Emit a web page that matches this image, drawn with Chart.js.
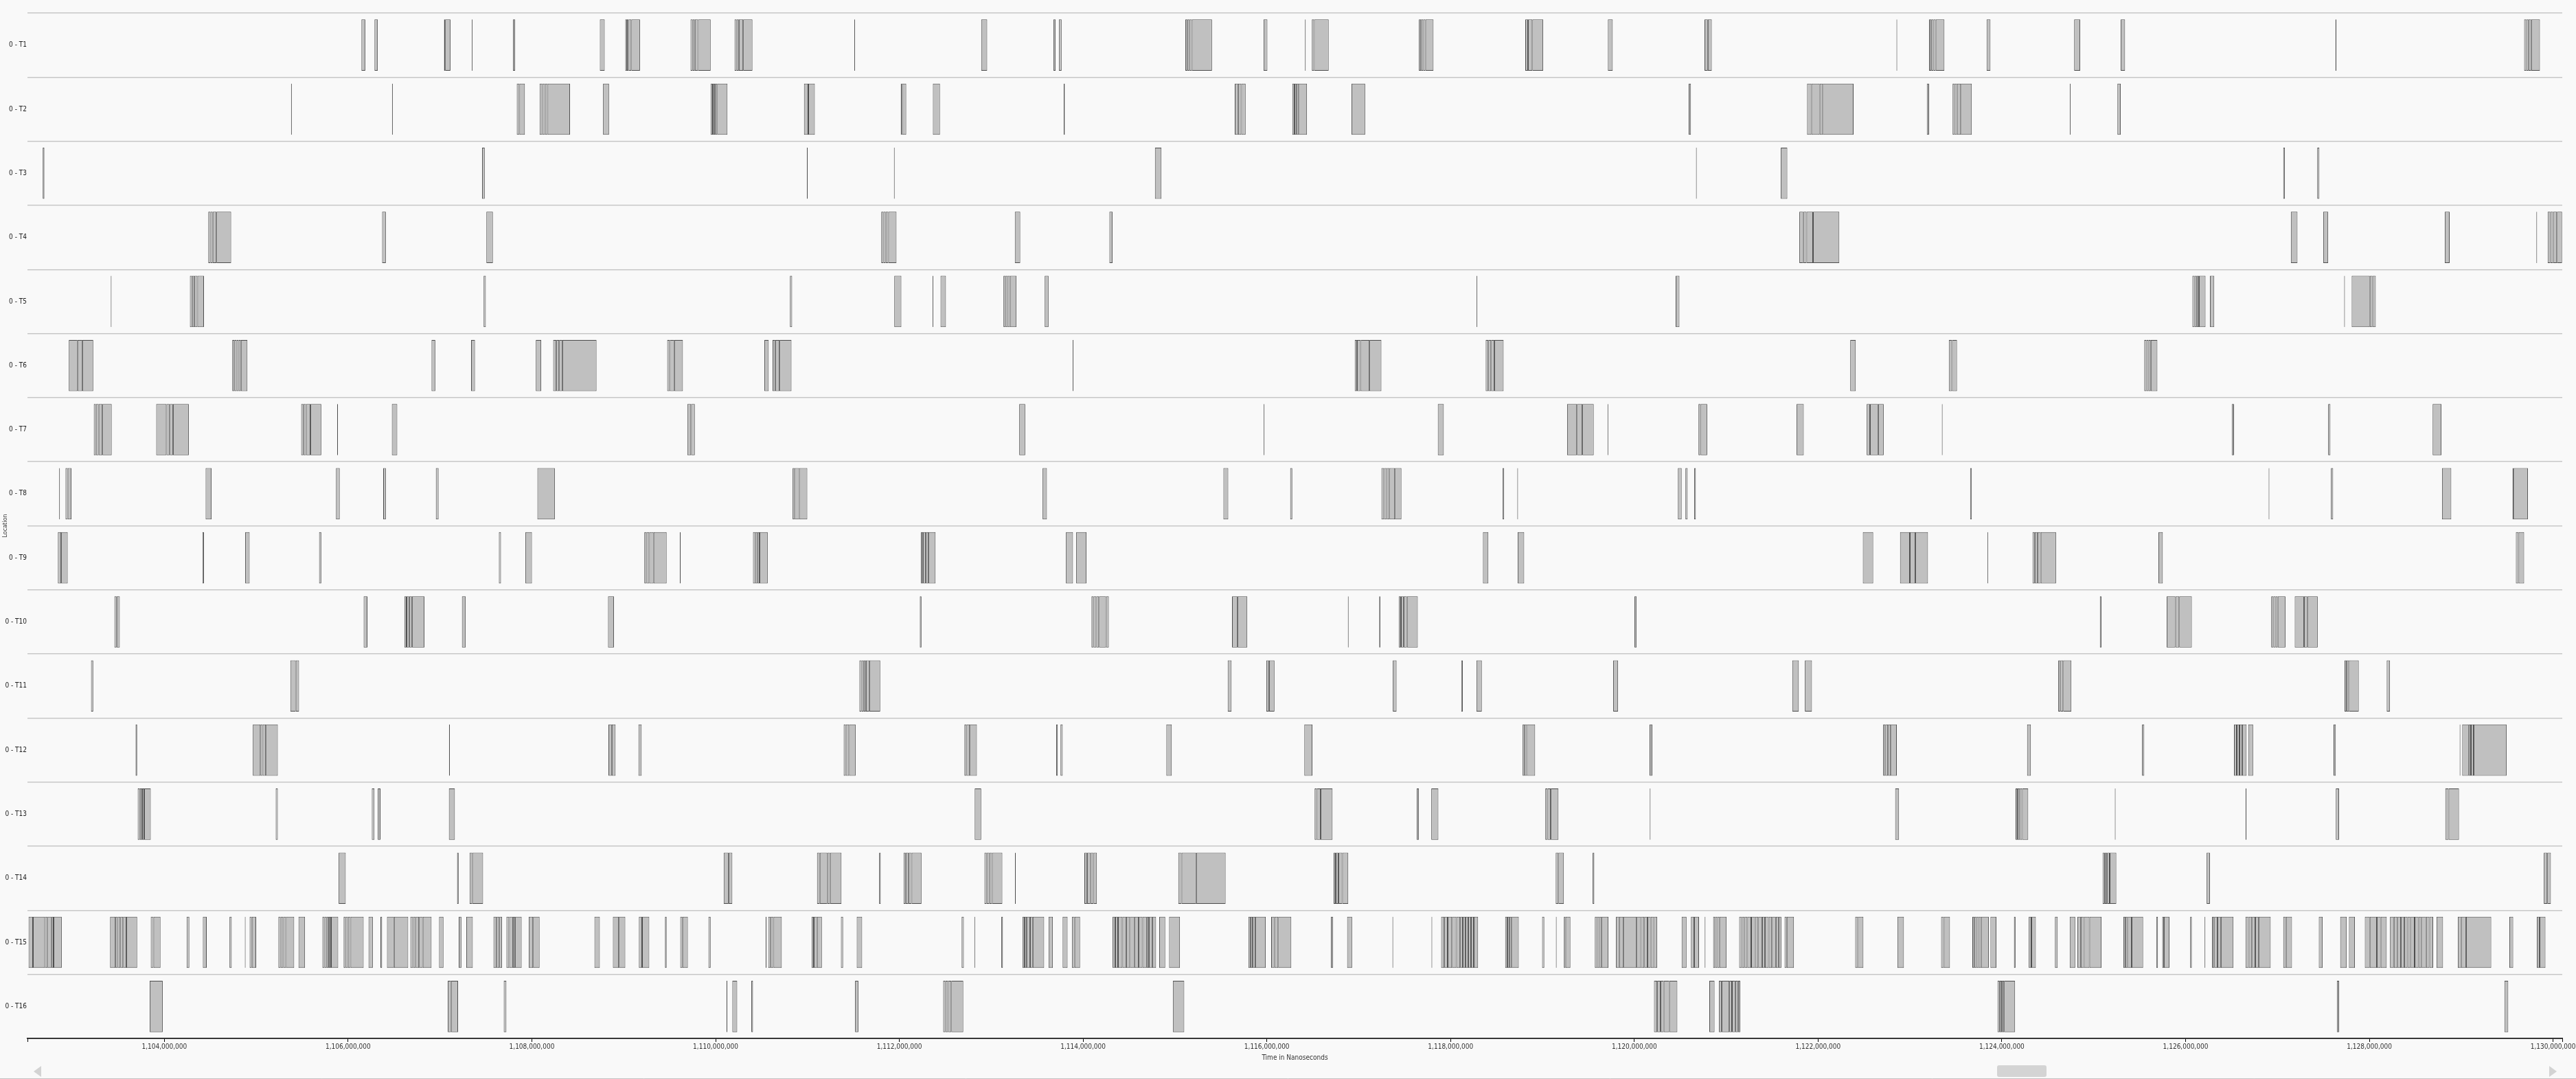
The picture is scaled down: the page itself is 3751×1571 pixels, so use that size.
<!DOCTYPE html>
<html>
<head>
<meta charset="utf-8">
<script src="https://cdn.jsdelivr.net/npm/chart.js@4.4.1/dist/chart.umd.min.js"></script>
<style>
html,body{margin:0;padding:0;background:#f9f9f9;}
canvas{display:block;}
</style>
</head>
<body>
<canvas id="c" width="3751" height="1571"></canvas>
<script>
const CATEGORIES = ['0 - T1','0 - T2','0 - T3','0 - T4','0 - T5','0 - T6','0 - T7','0 - T8',
  '0 - T9','0 - T10','0 - T11','0 - T12','0 - T13','0 - T14','0 - T15','0 - T16'];
const X_MIN = 1102510000;
const X_MAX = 1130100000;
const X_TICKS = [1104000000,1106000000,1108000000,1110000000,1112000000,1114000000,1116000000,
  1118000000,1120000000,1122000000,1124000000,1126000000,1128000000,1130000000];

// activity intervals per location, [start, end] in milliseconds
const T1 = [
[1106.145,1106.187],[1106.287,1106.323],[1107.044,1107.056],[1107.056,1107.114],[1107.347,1107.355],[1107.794,1107.818],[1108.740,1108.793],
[1109.017,1109.035],[1109.035,1109.053],[1109.053,1109.083],[1109.083,1109.177],
[1109.727,1109.751],[1109.751,1109.774],[1109.774,1109.809],[1109.809,1109.946],
[1110.206,1110.229],[1110.229,1110.253],[1110.253,1110.300],[1110.300,1110.401],
[1111.509,1111.517],
[1112.891,1112.956],[1113.677,1113.701],[1113.736,1113.766],
[1115.113,1115.137],[1115.137,1115.160],[1115.160,1115.184],[1115.184,1115.403],
[1115.964,1116.006],[1116.415,1116.423],[1116.490,1116.514],[1116.514,1116.673],
[1117.655,1117.678],[1117.678,1117.702],[1117.702,1117.726],[1117.726,1117.814],
[1118.813,1118.843],[1118.843,1118.890],[1118.890,1119.008],
[1119.712,1119.765],[1120.764,1120.800],[1120.800,1120.843],
[1122.853,1122.861],
[1123.208,1123.232],[1123.232,1123.256],[1123.256,1123.280],[1123.280,1123.375],
[1123.834,1123.876],[1124.787,1124.853],[1125.294,1125.341],[1127.631,1127.641],
[1129.685,1129.708],[1129.708,1129.732],[1129.732,1129.762],[1129.762,1129.857]
];
const T2 = [
[1105.379,1105.387],[1106.478,1106.486],
[1107.836,1107.865],[1107.865,1107.924],
[1108.084,1108.113],[1108.113,1108.143],[1108.143,1108.172],[1108.172,1108.415],
[1108.775,1108.840],
[1109.946,1109.970],[1109.970,1109.993],[1109.993,1110.017],[1110.017,1110.129],
[1110.962,1111.009],[1111.009,1111.080],
[1112.016,1112.030],[1112.030,1112.075],[1112.365,1112.442],[1113.789,1113.801],
[1115.651,1115.687],[1115.687,1115.722],[1115.722,1115.769],
[1116.277,1116.301],[1116.301,1116.325],[1116.325,1116.348],[1116.348,1116.437],
[1116.922,1117.070],[1120.592,1120.616],
[1121.880,1121.927],[1121.927,1122.017],[1122.017,1122.052],[1122.052,1122.386],
[1123.184,1123.208],
[1123.464,1123.488],[1123.488,1123.512],[1123.512,1123.554],[1123.554,1123.673],
[1124.741,1124.749],[1125.258,1125.294]
];
const T3 = [
[1102.676,1102.694],[1107.458,1107.487],[1110.994,1111.002],[1111.941,1111.949],[1114.782,1114.853],
[1120.671,1120.679],[1121.594,1121.665],[1127.063,1127.081],[1127.433,1127.456]
];
const T4 = [
[1104.478,1104.502],[1104.502,1104.526],[1104.526,1104.567],[1104.567,1104.727],
[1106.370,1106.411],[1107.505,1107.576],
[1111.803,1111.827],[1111.827,1111.851],[1111.851,1111.880],[1111.880,1111.969],
[1113.257,1113.316],[1114.286,1114.321],
[1121.796,1121.838],[1121.838,1121.874],[1121.874,1121.945],[1121.945,1122.231],
[1127.146,1127.218],[1127.498,1127.552],[1128.821,1128.874],[1129.818,1129.826],
[1129.941,1129.970],[1129.970,1130.000],[1130.000,1130.042],[1130.042,1130.098]
];
const T5 = [
[1103.417,1103.425],
[1104.278,1104.302],[1104.302,1104.325],[1104.325,1104.360],[1104.360,1104.431],
[1107.475,1107.499],[1110.809,1110.833],
[1111.945,1112.022],[1112.361,1112.369],[1112.448,1112.507],
[1113.133,1113.157],[1113.157,1113.180],[1113.180,1113.204],[1113.204,1113.275],
[1113.582,1113.624],[1118.283,1118.291],[1120.450,1120.491],
[1126.074,1126.098],[1126.098,1126.122],[1126.122,1126.146],[1126.146,1126.217],
[1126.265,1126.312],[1127.726,1127.734],
[1127.808,1128.005],[1128.005,1128.034],[1128.034,1128.070]
];
const T6 = [
[1102.960,1103.054],[1103.054,1103.107],[1103.107,1103.226],
[1104.739,1104.762],[1104.762,1104.786],[1104.786,1104.809],[1104.809,1104.833],[1104.833,1104.904],
[1106.908,1106.949],[1107.339,1107.381],[1108.043,1108.102],
[1108.232,1108.267],[1108.267,1108.297],[1108.297,1108.332],[1108.332,1108.704],
[1109.473,1109.502],[1109.502,1109.550],[1109.550,1109.644],
[1110.531,1110.578],
[1110.620,1110.649],[1110.649,1110.696],[1110.696,1110.826],
[1113.886,1113.894],
[1116.957,1116.981],[1116.981,1117.022],[1117.022,1117.117],[1117.117,1117.247],
[1118.382,1118.411],[1118.411,1118.441],[1118.441,1118.476],[1118.476,1118.577],
[1122.350,1122.410],[1123.423,1123.458],[1123.458,1123.512],
[1125.550,1125.574],[1125.574,1125.597],[1125.597,1125.621],[1125.621,1125.693]
];
const T7 = [
[1103.232,1103.255],[1103.255,1103.285],[1103.285,1103.326],[1103.326,1103.427],
[1103.911,1104.023],[1104.023,1104.059],[1104.059,1104.094],[1104.094,1104.266],
[1105.489,1105.513],[1105.513,1105.542],[1105.542,1105.590],[1105.590,1105.708],
[1105.881,1105.889],[1106.476,1106.535],[1109.692,1109.733],[1109.733,1109.774],
[1113.305,1113.370],[1115.966,1115.974],[1117.861,1117.926],
[1119.268,1119.375],[1119.375,1119.434],[1119.434,1119.558],
[1119.708,1119.716],[1120.698,1120.722],[1120.722,1120.793],
[1121.766,1121.844],[1122.529,1122.565],[1122.565,1122.654],[1122.654,1122.714],
[1123.347,1123.355],[1126.503,1126.527],[1127.552,1127.576],[1128.689,1128.785]
];
const T8 = [
[1102.855,1102.863],[1102.924,1102.948],[1102.948,1102.989],
[1104.449,1104.514],[1105.868,1105.909],[1106.382,1106.411],[1106.955,1106.985],
[1108.060,1108.250],
[1110.838,1110.862],[1110.862,1110.909],[1110.909,1110.998],
[1113.559,1113.606],[1115.527,1115.580],[1116.254,1116.277],
[1117.247,1117.276],[1117.276,1117.306],[1117.306,1117.335],[1117.335,1117.394],[1117.394,1117.465],
[1118.565,1118.583],[1118.726,1118.734],
[1120.474,1120.515],[1120.556,1120.580],[1120.651,1120.669],
[1123.655,1123.673],[1126.904,1126.912],[1127.582,1127.606],[1128.791,1128.892],
[1129.559,1129.571],[1129.571,1129.726]
];
const T9 = [
[1102.841,1102.877],[1102.877,1102.948],
[1104.414,1104.431],[1104.880,1104.928],[1105.684,1105.708],[1107.641,1107.664],[1107.930,1108.001],
[1109.224,1109.248],[1109.248,1109.278],[1109.278,1109.325],[1109.325,1109.467],
[1109.611,1109.619],
[1110.407,1110.431],[1110.431,1110.454],[1110.454,1110.478],[1110.478,1110.567],
[1112.235,1112.258],[1112.258,1112.288],[1112.288,1112.318],[1112.318,1112.394],
[1113.813,1113.890],[1113.925,1114.037],[1118.352,1118.411],[1118.730,1118.801],
[1122.487,1122.600],
[1122.892,1122.999],[1122.999,1123.059],[1123.059,1123.196],
[1123.842,1123.850],
[1124.334,1124.358],[1124.358,1124.388],[1124.388,1124.424],[1124.424,1124.590],
[1125.705,1125.752],[1129.595,1129.625],[1129.625,1129.685]
];
const T10 = [
[1103.456,1103.480],[1103.480,1103.515],[1106.169,1106.210],
[1106.612,1106.636],[1106.636,1106.665],[1106.665,1106.695],[1106.695,1106.831],
[1107.239,1107.280],[1108.829,1108.894],
[1112.223,1112.241],
[1114.091,1114.114],[1114.114,1114.144],[1114.144,1114.173],[1114.173,1114.250],[1114.250,1114.280],
[1115.621,1115.680],[1115.680,1115.787],[1116.882,1116.890],[1117.223,1117.235],
[1117.436,1117.460],[1117.460,1117.489],[1117.489,1117.525],[1117.525,1117.643],
[1120.001,1120.025],[1125.067,1125.085],
[1125.794,1125.889],[1125.889,1125.931],[1125.931,1126.068],
[1126.932,1126.956],[1126.956,1126.980],[1126.980,1127.003],[1127.003,1127.087],
[1127.188,1127.289],[1127.289,1127.325],[1127.325,1127.438]
];
const T11 = [
[1103.202,1103.226],[1105.371,1105.430],[1105.430,1105.466],
[1111.565,1111.589],[1111.589,1111.613],[1111.613,1111.636],[1111.636,1111.673],[1111.673,1111.792],
[1115.574,1115.616],[1115.994,1116.024],[1116.024,1116.083],[1117.371,1117.412],
[1118.116,1118.133],[1118.281,1118.340],[1119.770,1119.823],
[1121.719,1121.790],[1121.856,1121.933],
[1124.614,1124.638],[1124.638,1124.668],[1124.668,1124.757],
[1127.730,1127.754],[1127.754,1127.778],[1127.778,1127.885],[1128.189,1128.225]
];
const T12 = [
[1103.687,1103.704],
[1104.963,1105.046],[1105.046,1105.070],[1105.070,1105.105],[1105.105,1105.235],
[1107.099,1107.107],[1108.834,1108.870],[1108.870,1108.911],[1109.160,1109.195],
[1111.394,1111.417],[1111.417,1111.453],[1111.453,1111.524],
[1112.708,1112.731],[1112.731,1112.767],[1112.767,1112.844],
[1113.707,1113.724],[1113.754,1113.778],[1114.906,1114.965],[1116.408,1116.496],
[1118.784,1118.807],[1118.807,1118.831],[1118.831,1118.920],
[1120.166,1120.196],
[1122.708,1122.732],[1122.732,1122.761],[1122.761,1122.791],[1122.791,1122.857],
[1124.275,1124.316],[1125.526,1125.550],
[1126.527,1126.557],[1126.557,1126.587],[1126.587,1126.616],[1126.616,1126.664],[1126.682,1126.735],
[1127.611,1127.635],[1128.983,1128.991],
[1129.011,1129.082],[1129.082,1129.106],[1129.106,1129.136],[1129.136,1129.494]
];
const T13 = [
[1103.710,1103.734],[1103.734,1103.758],[1103.758,1103.781],[1103.781,1103.852],
[1105.212,1105.235],[1106.258,1106.287],[1106.323,1106.352],[1107.097,1107.162],
[1112.820,1112.891],
[1116.520,1116.544],[1116.544,1116.585],[1116.585,1116.715],
[1117.631,1117.655],[1117.790,1117.867],
[1119.031,1119.055],[1119.055,1119.090],[1119.090,1119.174],
[1120.168,1120.176],[1122.839,1122.881],
[1124.150,1124.173],[1124.173,1124.197],[1124.197,1124.221],[1124.221,1124.287],
[1125.230,1125.238],[1126.654,1126.662],[1127.635,1127.671],
[1128.827,1128.863],[1128.863,1128.976]
];
const T14 = [
[1105.897,1105.974],[1107.186,1107.203],[1107.322,1107.351],[1107.351,1107.469],
[1110.088,1110.141],[1110.141,1110.182],
[1111.104,1111.134],[1111.134,1111.216],[1111.216,1111.246],[1111.246,1111.370],
[1111.780,1111.797],
[1112.046,1112.069],[1112.069,1112.099],[1112.099,1112.134],[1112.134,1112.241],
[1112.926,1112.950],[1112.950,1112.980],[1112.980,1113.009],[1113.009,1113.121],
[1113.259,1113.267],
[1114.014,1114.043],[1114.043,1114.079],[1114.079,1114.114],[1114.114,1114.150],
[1115.036,1115.072],[1115.072,1115.231],[1115.231,1115.551],
[1116.727,1116.750],[1116.750,1116.780],[1116.780,1116.821],[1116.821,1116.886],
[1119.144,1119.174],[1119.174,1119.233],[1119.546,1119.564],
[1125.097,1125.121],[1125.121,1125.145],[1125.145,1125.174],[1125.174,1125.246],
[1126.229,1126.265],[1129.899,1129.937],[1129.937,1129.976]
];
const T15 = [
[1102.522,1102.570],[1102.570,1102.700],
[1102.700,1102.729],[1102.729,1102.770],[1102.770,1102.794],[1102.794,1102.883],
[1103.409,1103.468],[1103.468,1103.492],[1103.492,1103.521],[1103.521,1103.551],[1103.551,1103.586],[1103.586,1103.704],
[1103.852,1103.882],[1103.882,1103.958],
[1104.242,1104.272],[1104.419,1104.461],[1104.709,1104.733],[1104.876,1104.884],
[1104.928,1104.952],[1104.952,1104.999],
[1105.241,1105.265],[1105.265,1105.294],[1105.294,1105.324],[1105.324,1105.413],
[1105.460,1105.531],
[1105.720,1105.743],[1105.743,1105.767],[1105.767,1105.791],[1105.791,1105.814],[1105.814,1105.892],
[1105.951,1105.974],[1105.974,1105.998],[1105.998,1106.027],[1106.027,1106.169],
[1106.222,1106.269],[1106.352,1106.370],
[1106.423,1106.500],[1106.500,1106.654],
[1106.677,1106.707],[1106.707,1106.736],[1106.736,1106.772],[1106.772,1106.813],[1106.813,1106.908],
[1106.990,1107.038],[1107.204,1107.233],[1107.286,1107.357],
[1107.582,1107.617],[1107.617,1107.647],[1107.647,1107.676],
[1107.723,1107.753],[1107.753,1107.794],[1107.794,1107.818],[1107.818,1107.889],
[1107.966,1108.013],[1108.013,1108.084],
[1108.681,1108.740],
[1108.882,1108.947],[1108.947,1109.017],
[1109.165,1109.200],[1109.200,1109.278],
[1109.449,1109.467],
[1109.615,1109.639],[1109.639,1109.698],
[1109.922,1109.946],[1110.545,1110.553],
[1110.572,1110.596],[1110.596,1110.631],[1110.631,1110.720],
[1111.045,1111.069],[1111.069,1111.104],[1111.104,1111.157],
[1111.364,1111.388],[1111.536,1111.595],
[1112.678,1112.702],[1112.816,1112.824],[1113.110,1113.127],
[1113.340,1113.364],[1113.364,1113.387],[1113.387,1113.423],[1113.423,1113.452],[1113.452,1113.576],
[1113.624,1113.671],[1113.777,1113.831],
[1113.878,1113.907],[1113.907,1113.967],
[1114.321,1114.350],[1114.350,1114.380],[1114.380,1114.428],[1114.428,1114.469],[1114.469,1114.510],[1114.510,1114.558],
[1114.558,1114.605],[1114.605,1114.646],[1114.646,1114.693],[1114.693,1114.717],[1114.717,1114.753],[1114.753,1114.794],
[1114.829,1114.894],[1114.936,1115.054],
[1115.799,1115.822],[1115.822,1115.846],[1115.846,1115.876],[1115.876,1115.988],
[1116.047,1116.082],[1116.082,1116.124],[1116.124,1116.266],
[1116.697,1116.721],[1116.874,1116.928],[1117.367,1117.375],[1117.792,1117.800],
[1117.897,1117.932],[1117.932,1117.968],[1117.968,1118.015],[1118.015,1118.062],[1118.062,1118.104],[1118.104,1118.133],
[1118.133,1118.163],[1118.163,1118.192],[1118.192,1118.222],[1118.222,1118.252],[1118.252,1118.299],
[1118.594,1118.618],[1118.618,1118.642],[1118.642,1118.665],[1118.665,1118.742],
[1118.996,1119.020],[1119.146,1119.154],
[1119.233,1119.251],[1119.251,1119.304],
[1119.570,1119.594],[1119.594,1119.617],[1119.617,1119.641],[1119.641,1119.718],
[1119.800,1119.835],[1119.835,1119.883],[1119.883,1120.025],[1120.025,1120.072],[1120.072,1120.108],[1120.108,1120.143],
[1120.143,1120.178],[1120.178,1120.214],[1120.214,1120.249],
[1120.515,1120.568],
[1120.616,1120.652],[1120.652,1120.704],
[1120.766,1120.774],
[1120.858,1120.879],[1120.879,1120.902],[1120.902,1120.926],[1120.926,1121.004],
[1121.141,1121.171],[1121.171,1121.200],[1121.200,1121.230],[1121.230,1121.272],[1121.272,1121.314],[1121.314,1121.349],
[1121.349,1121.391],[1121.391,1121.421],[1121.421,1121.463],[1121.463,1121.498],[1121.498,1121.540],[1121.540,1121.570],[1121.570,1121.600],
[1121.635,1121.659],[1121.659,1121.737],
[1122.404,1122.434],[1122.434,1122.493],
[1122.863,1122.934],
[1123.339,1123.369],[1123.369,1123.435],
[1123.679,1123.703],[1123.703,1123.727],[1123.727,1123.750],[1123.750,1123.774],[1123.774,1123.858],
[1123.876,1123.941],[1124.132,1124.149],
[1124.293,1124.322],[1124.322,1124.370],
[1124.578,1124.608],[1124.739,1124.799],
[1124.823,1124.859],[1124.859,1124.894],[1124.894,1124.954],[1124.954,1125.085],
[1125.323,1125.347],[1125.347,1125.371],[1125.371,1125.413],[1125.413,1125.538],
[1125.681,1125.699],
[1125.746,1125.764],[1125.764,1125.824],
[1126.050,1126.068],[1126.207,1126.215],
[1126.288,1126.312],[1126.312,1126.348],[1126.348,1126.384],[1126.384,1126.521],
[1126.652,1126.688],[1126.688,1126.723],[1126.723,1126.759],[1126.759,1126.795],[1126.795,1126.926],
[1127.063,1127.093],[1127.093,1127.158],
[1127.450,1127.492],[1127.683,1127.754],[1127.778,1127.843],
[1127.951,1128.005],[1128.005,1128.082],[1128.082,1128.124],[1128.124,1128.189],
[1128.225,1128.267],[1128.267,1128.308],[1128.308,1128.344],[1128.344,1128.380],[1128.380,1128.415],[1128.415,1128.451],
[1128.451,1128.493],[1128.493,1128.535],[1128.535,1128.570],[1128.570,1128.618],[1128.618,1128.654],[1128.654,1128.695],
[1128.731,1128.802],
[1128.963,1128.999],[1128.999,1129.053],[1129.053,1129.327],
[1129.524,1129.566],
[1129.823,1129.853],[1129.853,1129.917]
];
const T16 = [
[1103.840,1103.982],[1107.085,1107.120],[1107.120,1107.197],[1107.694,1107.723],
[1110.119,1110.127],[1110.182,1110.235],[1110.389,1110.407],[1111.518,1111.554],
[1112.477,1112.501],[1112.501,1112.530],[1112.530,1112.566],[1112.566,1112.696],
[1114.977,1115.101],
[1120.214,1120.249],[1120.249,1120.285],[1120.285,1120.320],[1120.320,1120.380],[1120.380,1120.468],
[1120.816,1120.873],
[1120.920,1120.950],[1120.950,1121.034],[1121.034,1121.063],[1121.063,1121.099],[1121.099,1121.129],[1121.129,1121.153],
[1123.953,1123.977],[1123.977,1124.001],[1124.001,1124.024],[1124.024,1124.144],
[1127.647,1127.671],[1129.470,1129.512]
];
const ROWS = [T1,T2,T3,T4,T5,T6,T7,T8,T9,T10,T11,T12,T13,T14,T15,T16];

const MS_TO_NS = 1e6;
const bars = [];
ROWS.forEach((row, i) => row.forEach(([s, e]) => {
  bars.push({ x: [s * MS_TO_NS, e * MS_TO_NS], y: CATEGORIES[i] });
}));

const FONT = '"DejaVu Sans Condensed", "DejaVu Sans", sans-serif';

const scrollbar = {
  id: 'scrollbar',
  afterDraw(chart) {
    const c = chart.ctx;
    c.save();
    c.fillStyle = '#d3d3d3';
    c.beginPath(); c.moveTo(49, 1560); c.lineTo(60, 1552); c.lineTo(60, 1568); c.closePath(); c.fill();
    c.beginPath(); c.moveTo(3723, 1560); c.lineTo(3712, 1552); c.lineTo(3712, 1568); c.closePath(); c.fill();
    c.fillStyle = '#d4d4d4';
    c.beginPath();
    if (c.roundRect) c.roundRect(2908, 1551, 72, 17, 3); else c.rect(2908, 1551, 72, 17);
    c.fill();
    c.strokeStyle = '#c2c2c2'; c.lineWidth = 1;
    c.beginPath(); c.moveTo(0, 1570.5); c.lineTo(3751, 1570.5); c.stroke();
    c.restore();
  }
};

new Chart(document.getElementById('c'), {
  type: 'bar',
  data: {
    labels: CATEGORIES,
    datasets: [{
      data: bars,
      backgroundColor: '#c0c0c0',
      borderColor: '#4c4c4c',
      borderWidth: 1,
      borderSkipped: false,
      barPercentage: 0.8,
      categoryPercentage: 1
    }]
  },
  options: {
    indexAxis: 'y',
    responsive: false,
    animation: false,
    devicePixelRatio: 1,
    layout: { padding: { top: 19, right: 20, left: 0, bottom: 0 } },
    plugins: { legend: { display: false }, tooltip: { enabled: false } },
    scales: {
      x: {
        type: 'linear', position: 'bottom', min: X_MIN, max: X_MAX,
        afterBuildTicks: ax => { ax.ticks = [X_MIN, ...X_TICKS, X_MAX].map(v => ({ value: v })); },
        afterFit: ax => { ax.height = 59; ax.paddingLeft = 0; ax.paddingRight = 0; },
        grid: { drawOnChartArea: false, drawTicks: true, tickLength: 5, color: '#000', lineWidth: 1 },
        border: { display: true, color: '#000', width: 1.5, z: 1 },
        ticks: {
          autoSkip: false, maxRotation: 0, minRotation: 0, padding: 1, color: '#333',
          font: { family: FONT, size: 10 },
          callback: v => X_TICKS.includes(v) ? v.toLocaleString('en-US') : ''
        },
        title: { display: true, text: 'Time in Nanoseconds', color: '#333',
          font: { family: FONT, size: 10 }, padding: { top: 0, bottom: 25 } }
      },
      y: {
        type: 'category', labels: CATEGORIES, offset: true,
        afterFit: ax => { ax.width = 40; ax.paddingTop = 0; ax.paddingBottom = 0; },
        grid: { offset: true, drawTicks: false, color: '#c8c8c8', lineWidth: 1.5 },
        border: { display: false },
        ticks: { autoSkip: false, padding: 1, color: '#222', font: { family: FONT, size: 10 } },
        title: { display: true, text: 'Location', color: '#333',
          font: { family: FONT, size: 9 }, padding: { top: 2, bottom: 0 } }
      }
    }
  },
  plugins: [scrollbar]
});
</script>
</body>
</html>
